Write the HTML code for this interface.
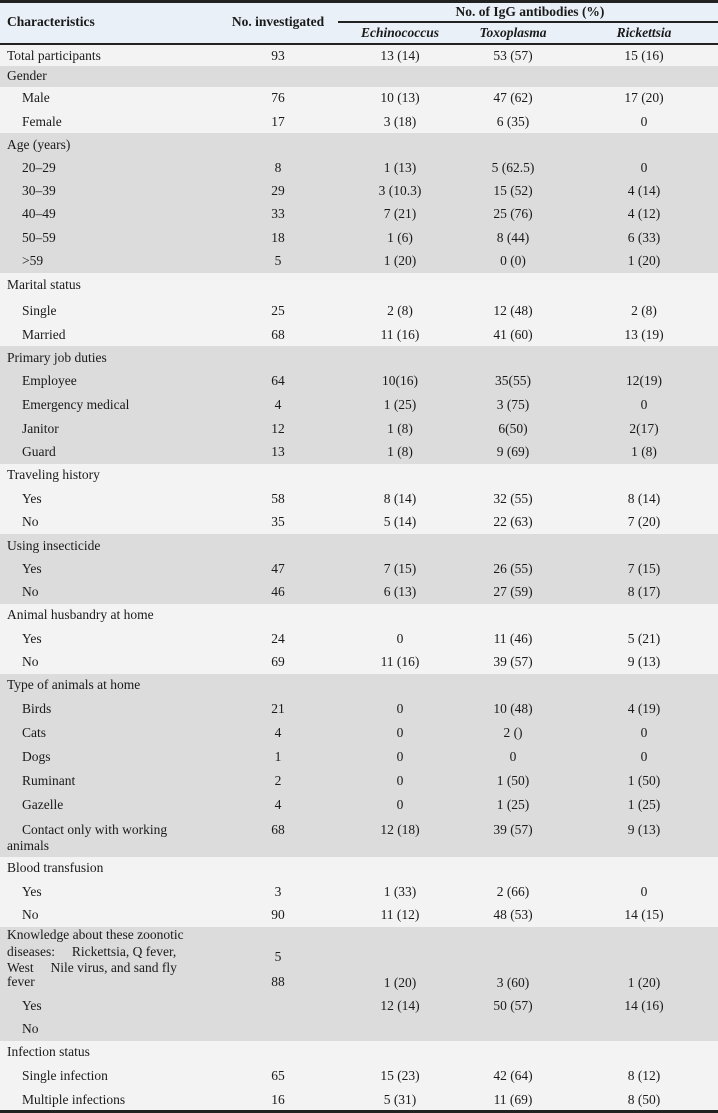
<!DOCTYPE html>
<html><head><meta charset="utf-8"><style>
*{margin:0;padding:0;box-sizing:border-box}
body{width:718px;height:1113px;position:relative;background:#f3f3f3;font-family:"Liberation Serif",serif;font-size:13.5px;color:#1a1a1a;overflow:hidden}
.b{position:absolute;left:0;width:718px}
.g{background:#dcdcdc}
.r{position:absolute;left:0;width:718px;height:16px;line-height:16px}
.r span{position:absolute;top:0;white-space:nowrap}
.c0{left:7px}.i{left:22px}
.c1{left:228px;width:100px;text-align:center}
.c2{left:350px;width:100px;text-align:center}
.c3{left:463px;width:100px;text-align:center}
.c4{left:594px;width:100px;text-align:center}
.hd{font-weight:bold}
.it{font-style:italic;font-weight:bold}
</style></head><body>
<div class="b" style="top:0;height:45px;background:#eaf0f8"></div>
<div class="b" style="top:0;height:3px;background:#222"></div>
<div style="position:absolute;left:338px;top:21px;width:380px;height:2px;background:#222"></div>
<div class="b" style="top:43px;height:2px;background:#222"></div>
<div class="b" style="top:1110px;height:3px;background:#222"></div>
<div class="r hd" style="top:14px"><span class="c0">Characteristics</span><span class="c1" style="left:208px;width:140px">No. investigated</span></div>
<div class="r hd" style="top:4px"><span style="left:430px;width:200px;text-align:center">No. of IgG antibodies (%)</span></div>
<div class="r it" style="top:25px"><span class="c2">Echinococcus</span><span class="c3">Toxoplasma</span><span class="c4">Rickettsia</span></div>

<div class="b g" style="top:66px;height:21px"></div>
<div class="b g" style="top:133px;height:140px"></div>
<div class="b g" style="top:346px;height:118px"></div>
<div class="b g" style="top:534px;height:70px"></div>
<div class="b g" style="top:674px;height:183px"></div>
<div class="b g" style="top:927px;height:114px"></div>

<div class="r" style="top:48px"><span class="c0">Total participants</span><span class="c1">93</span><span class="c2">13 (14)</span><span class="c3">53 (57)</span><span class="c4">15 (16)</span></div>
<div class="r" style="top:68px"><span class="c0">Gender</span></div>
<div class="r" style="top:90px"><span class="i">Male</span><span class="c1">76</span><span class="c2">10 (13)</span><span class="c3">47 (62)</span><span class="c4">17 (20)</span></div>
<div class="r" style="top:114px"><span class="i">Female</span><span class="c1">17</span><span class="c2">3 (18)</span><span class="c3">6 (35)</span><span class="c4">0</span></div>
<div class="r" style="top:137px"><span class="c0">Age (years)</span></div>
<div class="r" style="top:160px"><span class="i">20–29</span><span class="c1">8</span><span class="c2">1 (13)</span><span class="c3">5 (62.5)</span><span class="c4">0</span></div>
<div class="r" style="top:183px"><span class="i">30–39</span><span class="c1">29</span><span class="c2">3 (10.3)</span><span class="c3">15 (52)</span><span class="c4">4 (14)</span></div>
<div class="r" style="top:206px"><span class="i">40–49</span><span class="c1">33</span><span class="c2">7 (21)</span><span class="c3">25 (76)</span><span class="c4">4 (12)</span></div>
<div class="r" style="top:230px"><span class="i">50–59</span><span class="c1">18</span><span class="c2">1 (6)</span><span class="c3">8 (44)</span><span class="c4">6 (33)</span></div>
<div class="r" style="top:253px"><span class="i">&gt;59</span><span class="c1">5</span><span class="c2">1 (20)</span><span class="c3">0 (0)</span><span class="c4">1 (20)</span></div>
<div class="r" style="top:277px"><span class="c0">Marital status</span></div>
<div class="r" style="top:303px"><span class="i">Single</span><span class="c1">25</span><span class="c2">2 (8)</span><span class="c3">12 (48)</span><span class="c4">2 (8)</span></div>
<div class="r" style="top:327px"><span class="i">Married</span><span class="c1">68</span><span class="c2">11 (16)</span><span class="c3">41 (60)</span><span class="c4">13 (19)</span></div>
<div class="r" style="top:350px"><span class="c0">Primary job duties</span></div>
<div class="r" style="top:373px"><span class="i">Employee</span><span class="c1">64</span><span class="c2">10(16)</span><span class="c3">35(55)</span><span class="c4">12(19)</span></div>
<div class="r" style="top:397px"><span class="i">Emergency medical</span><span class="c1">4</span><span class="c2">1 (25)</span><span class="c3">3 (75)</span><span class="c4">0</span></div>
<div class="r" style="top:421px"><span class="i">Janitor</span><span class="c1">12</span><span class="c2">1 (8)</span><span class="c3">6(50)</span><span class="c4">2(17)</span></div>
<div class="r" style="top:444px"><span class="i">Guard</span><span class="c1">13</span><span class="c2">1 (8)</span><span class="c3">9 (69)</span><span class="c4">1 (8)</span></div>
<div class="r" style="top:467px"><span class="c0">Traveling history</span></div>
<div class="r" style="top:491px"><span class="i">Yes</span><span class="c1">58</span><span class="c2">8 (14)</span><span class="c3">32 (55)</span><span class="c4">8 (14)</span></div>
<div class="r" style="top:514px"><span class="i">No</span><span class="c1">35</span><span class="c2">5 (14)</span><span class="c3">22 (63)</span><span class="c4">7 (20)</span></div>
<div class="r" style="top:538px"><span class="c0">Using insecticide</span></div>
<div class="r" style="top:561px"><span class="i">Yes</span><span class="c1">47</span><span class="c2">7 (15)</span><span class="c3">26 (55)</span><span class="c4">7 (15)</span></div>
<div class="r" style="top:584px"><span class="i">No</span><span class="c1">46</span><span class="c2">6 (13)</span><span class="c3">27 (59)</span><span class="c4">8 (17)</span></div>
<div class="r" style="top:607px"><span class="c0">Animal husbandry at home</span></div>
<div class="r" style="top:631px"><span class="i">Yes</span><span class="c1">24</span><span class="c2">0</span><span class="c3">11 (46)</span><span class="c4">5 (21)</span></div>
<div class="r" style="top:654px"><span class="i">No</span><span class="c1">69</span><span class="c2">11 (16)</span><span class="c3">39 (57)</span><span class="c4">9 (13)</span></div>
<div class="r" style="top:677px"><span class="c0">Type of animals at home</span></div>
<div class="r" style="top:701px"><span class="i">Birds</span><span class="c1">21</span><span class="c2">0</span><span class="c3">10 (48)</span><span class="c4">4 (19)</span></div>
<div class="r" style="top:725px"><span class="i">Cats</span><span class="c1">4</span><span class="c2">0</span><span class="c3">2 ()</span><span class="c4">0</span></div>
<div class="r" style="top:749px"><span class="i">Dogs</span><span class="c1">1</span><span class="c2">0</span><span class="c3">0</span><span class="c4">0</span></div>
<div class="r" style="top:773px"><span class="i">Ruminant</span><span class="c1">2</span><span class="c2">0</span><span class="c3">1 (50)</span><span class="c4">1 (50)</span></div>
<div class="r" style="top:797px"><span class="i">Gazelle</span><span class="c1">4</span><span class="c2">0</span><span class="c3">1 (25)</span><span class="c4">1 (25)</span></div>
<div class="r" style="top:822px"><span class="i">Contact only with working</span><span class="c1">68</span><span class="c2">12 (18)</span><span class="c3">39 (57)</span><span class="c4">9 (13)</span></div>
<div class="r" style="top:838px"><span class="c0">animals</span></div>
<div class="r" style="top:860px"><span class="c0">Blood transfusion</span></div>
<div class="r" style="top:884px"><span class="i">Yes</span><span class="c1">3</span><span class="c2">1 (33)</span><span class="c3">2 (66)</span><span class="c4">0</span></div>
<div class="r" style="top:907px"><span class="i">No</span><span class="c1">90</span><span class="c2">11 (12)</span><span class="c3">48 (53)</span><span class="c4">14 (15)</span></div>
<div class="r" style="top:927px"><span class="c0">Knowledge about these zoonotic</span></div>
<div class="r" style="top:944px"><span class="c0">diseases:&nbsp;&nbsp;&nbsp;&nbsp; Rickettsia, Q fever,</span></div>
<div class="r" style="top:949px"><span class="c1">5</span></div>
<div class="r" style="top:960px"><span class="c0">West&nbsp;&nbsp;&nbsp;&nbsp; Nile virus, and sand fly</span></div>
<div class="r" style="top:974px"><span class="c0">fever</span><span class="c1">88</span></div>
<div class="r" style="top:975px"><span class="c2">1 (20)</span><span class="c3">3 (60)</span><span class="c4">1 (20)</span></div>
<div class="r" style="top:998px"><span class="i">Yes</span><span class="c2">12 (14)</span><span class="c3">50 (57)</span><span class="c4">14 (16)</span></div>
<div class="r" style="top:1021px"><span class="i">No</span></div>
<div class="r" style="top:1044px"><span class="c0">Infection status</span></div>
<div class="r" style="top:1068px"><span class="i">Single infection</span><span class="c1">65</span><span class="c2">15 (23)</span><span class="c3">42 (64)</span><span class="c4">8 (12)</span></div>
<div class="r" style="top:1092px"><span class="i">Multiple infections</span><span class="c1">16</span><span class="c2">5 (31)</span><span class="c3">11 (69)</span><span class="c4">8 (50)</span></div>
</body></html>
